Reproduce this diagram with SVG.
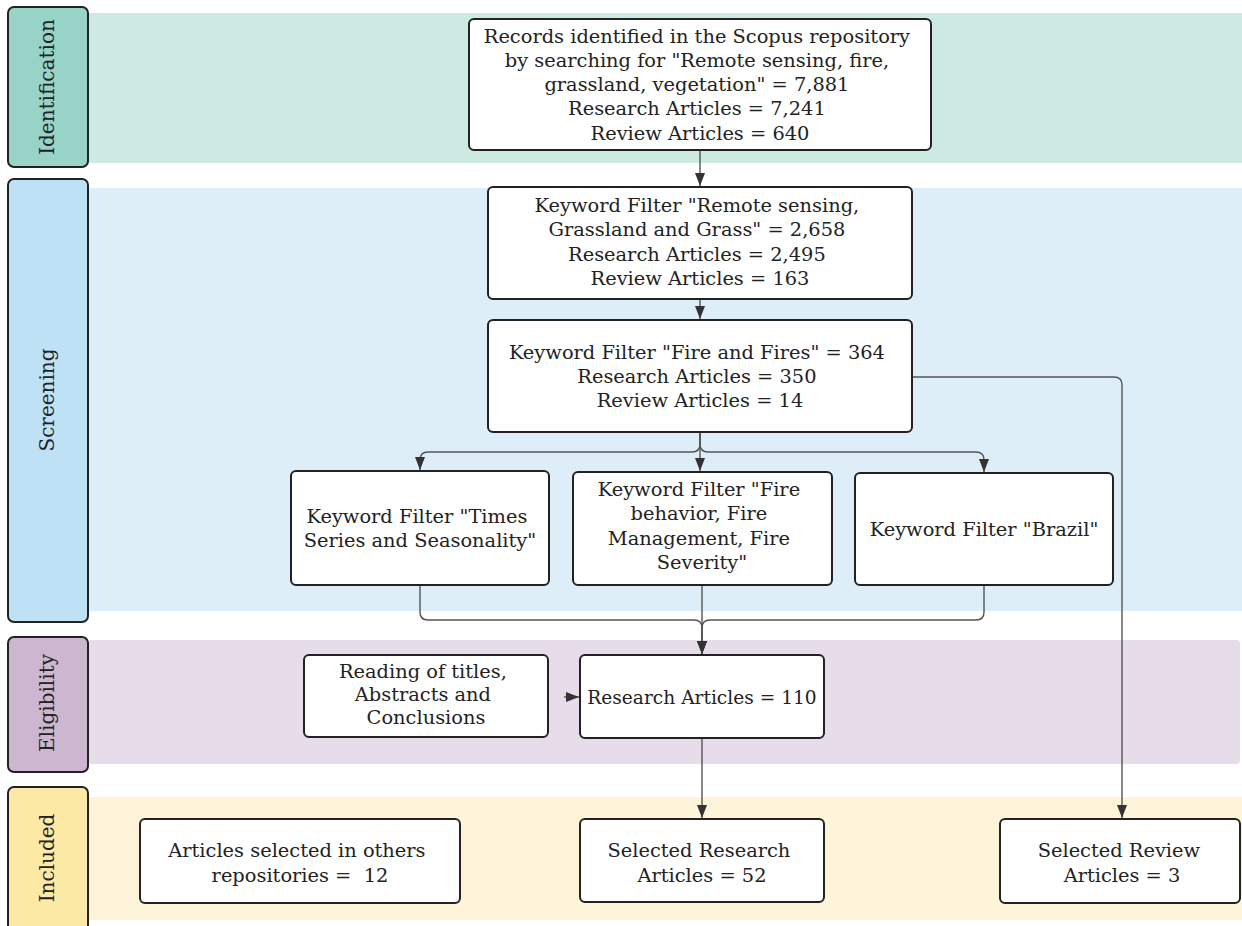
<svg xmlns="http://www.w3.org/2000/svg" width="1242" height="926" viewBox="0 0 1242 926">
  <defs>
    <style>
      .tab { stroke: #222; stroke-width: 2; }
      .tab-text { font-family: "DejaVu Serif", "Liberation Serif", serif; font-size: 20px; fill: #222; text-anchor: middle; }
      .box { fill: #fff; stroke: #222; stroke-width: 2; }
      .label { font-family: "DejaVu Serif", "Liberation Serif", serif; font-size: 19.4px; fill: #222; text-anchor: middle; }
      .edge { fill: none; stroke: #555; stroke-width: 1.4; }
      .arrow { marker-end: url(#head); }
    </style>
    <marker id="head" viewBox="0 0 13 10" refX="13" refY="5" markerWidth="13" markerHeight="10" markerUnits="userSpaceOnUse" orient="auto">
      <path d="M0,0 L13,5 L0,10 Z" fill="#333"/>
    </marker>
  </defs>

  <rect width="1242" height="926" fill="#fff"/>

  <!-- swimlane bands -->
  <g id="lanes">
    <rect x="88" y="13" width="1154" height="150" fill="#cce9e2"/>
    <rect x="88" y="188" width="1154" height="423" fill="#ddeef9"/>
    <rect x="88" y="640" width="1152" height="124" rx="4" fill="#e7dcea"/>
    <rect x="88" y="797" width="1154" height="123" fill="#fdf4da"/>
  </g>

  <!-- lane headers -->
  <g id="lane-identification">
    <rect class="tab" x="8" y="7" width="80" height="160" rx="6" fill="#97d3c7"/>
    <text class="tab-text" transform="translate(47,87) rotate(-90)" x="0" y="7">Identification</text>
  </g>
  <g id="lane-screening">
    <rect class="tab" x="8" y="179" width="80" height="443" rx="6" fill="#bfe1f5"/>
    <text class="tab-text" transform="translate(47,400) rotate(-90)" x="0" y="7">Screening</text>
  </g>
  <g id="lane-eligibility">
    <rect class="tab" x="8" y="637" width="80" height="135" rx="6" fill="#cdb7d0"/>
    <text class="tab-text" transform="translate(47,703) rotate(-90)" x="0" y="7">Eligibility</text>
  </g>
  <g id="lane-included">
    <rect class="tab" x="8" y="787" width="80" height="150" rx="6" fill="#fde9a6"/>
    <text class="tab-text" transform="translate(47,858) rotate(-90)" x="0" y="7">Included</text>
  </g>

  <!-- connectors -->
  <g id="connectors">
    <path class="edge arrow" d="M700,151 V186"/>
    <path class="edge arrow" d="M700,300 V319"/>
    <path class="edge arrow" d="M700,433 V444 Q700,452 692,452 H428 Q420,452 420,460 V470"/>
    <path class="edge arrow" d="M700,433 V471"/>
    <path class="edge arrow" d="M700,433 V444 Q700,452 708,452 H976 Q984,452 984,460 V472"/>
    <path class="edge arrow" d="M913,377 H1114 Q1122,377 1122,385 V818"/>
    <path class="edge arrow" d="M420,586 V612 Q420,620 428,620 H694 Q702,620 702,628 V654"/>
    <path class="edge arrow" d="M702,586 V654"/>
    <path class="edge arrow" d="M984,586 V612 Q984,620 976,620 H710 Q702,620 702,628 V654"/>
    <path class="edge arrow" d="M702,739 V818"/>
    <path class="edge arrow" d="M564,697 H579"/>
  </g>

  <!-- nodes -->
  <g id="records">
    <rect class="box" x="469" y="19" width="462" height="131" rx="5"/>
    <text class="label" x="700" y="42.5">
      <tspan x="700">Records identified in the Scopus repository</tspan>
      <tspan x="700" dy="24.3">by searching for "Remote sensing, fire,</tspan>
      <tspan x="700" dy="24.3">grassland, vegetation" = 7,881</tspan>
      <tspan x="700" dy="24.3">Research Articles = 7,241</tspan>
      <tspan x="700" dy="24.3">Review Articles = 640</tspan>
    </text>
  </g>

  <g id="filter-remote-sensing">
    <rect class="box" x="488" y="187" width="424" height="112" rx="5"/>
    <text class="label" x="700" y="212">
      <tspan x="700">Keyword Filter "Remote sensing,</tspan>
      <tspan x="700" dy="24.3">Grassland and Grass" = 2,658</tspan>
      <tspan x="700" dy="24.3">Research Articles = 2,495</tspan>
      <tspan x="700" dy="24.3">Review Articles = 163</tspan>
    </text>
  </g>

  <g id="filter-fire">
    <rect class="box" x="488" y="320" width="424" height="112" rx="5"/>
    <text class="label" x="700" y="358.5">
      <tspan x="700">Keyword Filter "Fire and Fires" = 364</tspan>
      <tspan x="700" dy="24.3">Research Articles = 350</tspan>
      <tspan x="700" dy="24.3">Review Articles = 14</tspan>
    </text>
  </g>

  <g id="filter-time-series">
    <rect class="box" x="291" y="471" width="258" height="114" rx="5"/>
    <text class="label" x="420" y="522.5">
      <tspan x="420">Keyword Filter "Times</tspan>
      <tspan x="420" dy="24.3">Series and Seasonality"</tspan>
    </text>
  </g>

  <g id="filter-fire-behavior">
    <rect class="box" x="573" y="472" width="259" height="113" rx="5"/>
    <text class="label" x="702" y="496">
      <tspan x="702">Keyword Filter "Fire</tspan>
      <tspan x="702" dy="24.3">behavior, Fire</tspan>
      <tspan x="702" dy="24.3">Management, Fire</tspan>
      <tspan x="702" dy="24.3">Severity"</tspan>
    </text>
  </g>

  <g id="filter-brazil">
    <rect class="box" x="855" y="473" width="258" height="112" rx="5"/>
    <text class="label" x="984" y="535.5">Keyword Filter "Brazil"</text>
  </g>

  <g id="reading">
    <rect class="box" x="304" y="655" width="244" height="82" rx="5"/>
    <text class="label" x="426" y="677.5">
      <tspan x="426">Reading of titles,</tspan>
      <tspan x="426" dy="23.3">Abstracts and</tspan>
      <tspan x="426" dy="23.3">Conclusions</tspan>
    </text>
  </g>

  <g id="research-110">
    <rect class="box" x="580" y="655" width="244" height="83" rx="5"/>
    <text class="label" x="702" y="703.5" style="font-size:18.6px">Research Articles = 110</text>
  </g>

  <g id="other-repositories">
    <rect class="box" x="140" y="819" width="320" height="84" rx="5"/>
    <text class="label" x="300" y="856.5">
      <tspan x="300">Articles selected in others</tspan>
      <tspan x="300" dy="25" style="white-space:pre">repositories =  12</tspan>
    </text>
  </g>

  <g id="selected-research">
    <rect class="box" x="580" y="819" width="244" height="83" rx="5"/>
    <text class="label" x="702" y="856.5">
      <tspan x="702">Selected Research</tspan>
      <tspan x="702" dy="25">Articles = 52</tspan>
    </text>
  </g>

  <g id="selected-review">
    <rect class="box" x="1000" y="819" width="240" height="84" rx="5"/>
    <text class="label" x="1122" y="856.5">
      <tspan x="1122">Selected Review</tspan>
      <tspan x="1122" dy="25">Articles = 3</tspan>
    </text>
  </g>
</svg>
